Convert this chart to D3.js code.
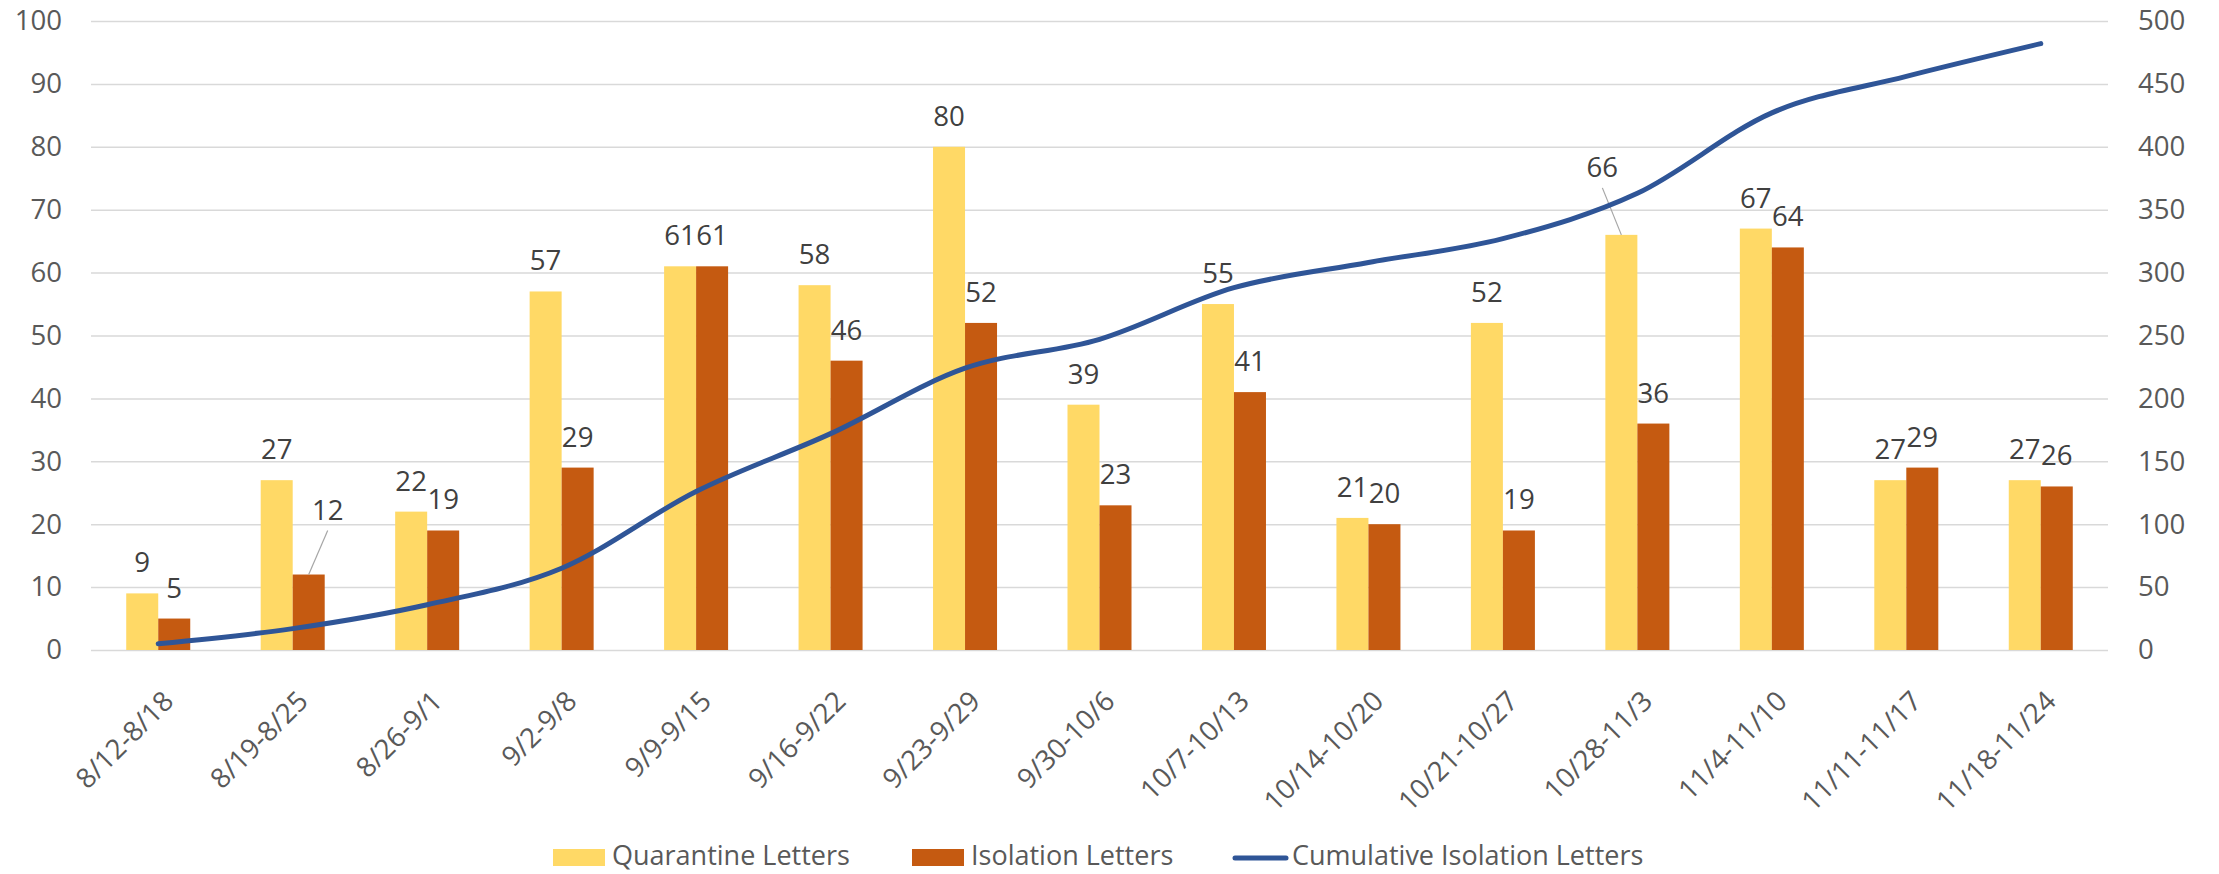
<!DOCTYPE html>
<html>
<head>
<meta charset="utf-8">
<script src="https://cdn.jsdelivr.net/npm/d3@7"></script>
<style>
  body { margin: 0; background: #fff; }
  svg text { font-family: "Open Sans", sans-serif; }
</style>
</head>
<body>
<div id="chart"></div>
<script>
// data
const weeks = ["8/12-8/18", "8/19-8/25", "8/26-9/1", "9/2-9/8", "9/9-9/15", "9/16-9/22",
  "9/23-9/29", "9/30-10/6", "10/7-10/13", "10/14-10/20", "10/21-10/27", "10/28-11/3",
  "11/4-11/10", "11/11-11/17", "11/18-11/24"];
const quarantine = [9, 27, 22, 57, 61, 58, 80, 39, 55, 21, 52, 66, 67, 27, 27];
const isolation = [5, 12, 19, 29, 61, 46, 52, 23, 41, 20, 19, 36, 64, 29, 26];
const cumulative = [5, 17, 36, 65, 126, 172, 224, 247, 288, 308, 327, 363, 427, 456, 482];
const leftTicks = [0, 10, 20, 30, 40, 50, 60, 70, 80, 90, 100];
const rightTicks = [0, 50, 100, 150, 200, 250, 300, 350, 400, 450, 500];

const W = 2219, H = 874;
const margin = { top: 21, right: 111, bottom: 224, left: 91 };
const plotW = W - margin.left - margin.right;
const plotH = H - margin.top - margin.bottom;

const svg = d3.select("#chart").append("svg")
  .attr("width", W).attr("height", H);
const g = svg.append("g")
  .attr("transform", "translate(" + margin.left + "," + margin.top + ")");

const x0 = d3.scaleBand().domain(weeks).range([0, plotW]);
const barW = x0.bandwidth() * 0.238;
const x1 = d3.scaleBand().domain(["q", "i"])
  .range([x0.bandwidth() / 2 - barW, x0.bandwidth() / 2 + barW]);
const yL = d3.scaleLinear().domain([0, 100]).range([plotH, 0]);
const yR = d3.scaleLinear().domain([0, 500]).range([plotH, 0]);

// left axis + gridlines
const ax = g.append("g")
  .call(d3.axisLeft(yL).tickValues(leftTicks).tickSize(-plotW).tickPadding(29));
ax.select(".domain").remove();
ax.selectAll("line").attr("stroke", "#d9d9d9").attr("stroke-width", 1.5);
ax.selectAll("text").attr("fill", "#595959").style("font-size", "27.6px");

// right axis
const axR = g.append("g").attr("transform", "translate(" + plotW + ",0)")
  .call(d3.axisRight(yR).tickValues(rightTicks).tickSize(0).tickPadding(30));
axR.select(".domain").remove();
axR.selectAll("text").attr("fill", "#595959").style("font-size", "27.6px");

// x axis
const axX = g.append("g").attr("transform", "translate(0," + plotH + ")")
  .call(d3.axisBottom(x0).tickSize(0));
axX.select(".domain").remove();
axX.selectAll("text")
  .attr("x", 0).attr("y", 0).attr("dy", "0.35em")
  .attr("transform", "translate(10,46) rotate(-45)")
  .style("text-anchor", "end")
  .attr("fill", "#595959").style("font-size", "27.6px");

// bars
const rows = weeks.map((w, i) => ({ week: w, q: quarantine[i], i: isolation[i] }));
const colors = { q: "#ffd966", i: "#c55a11" };
const grp = g.selectAll(".week").data(rows).enter().append("g")
  .attr("transform", d => "translate(" + x0(d.week) + ",0)");
grp.selectAll("rect").data(d => ["q", "i"].map(k => ({ k: k, v: d[k] })))
  .enter().append("rect")
  .attr("x", d => x1(d.k))
  .attr("width", x1.bandwidth())
  .attr("y", d => yL(d.v))
  .attr("height", d => plotH - yL(d.v))
  .attr("fill", d => colors[d.k]);

// cumulative line
const line = d3.line()
  .x((d, i) => x0(weeks[i]) + x0.bandwidth() / 2)
  .y(d => yR(d))
  .curve(d3.curveCatmullRom.alpha(0));
g.append("path").datum(cumulative)
  .attr("d", line)
  .attr("fill", "none")
  .attr("stroke", "#2f5597")
  .attr("stroke-width", 5)
  .attr("stroke-linecap", "round");

// data labels (two were moved with leader lines)
const moved = { "q-11": [-19, -37], "i-1": [19, -34] };
grp.each(function (d, idx) {
  const sel = d3.select(this);
  ["q", "i"].forEach(k => {
    const cx = x1(k) + x1.bandwidth() / 2;
    const top = yL(d[k]);
    const off = moved[k + "-" + idx] || [0, 0];
    if (off[0] !== 0) {
      sel.append("line")
        .attr("x1", cx).attr("y1", top)
        .attr("x2", cx + off[0]).attr("y2", top - 21 + off[1] + 11)
        .attr("stroke", "#a6a6a6").attr("stroke-width", 1.2);
    }
    sel.append("text")
      .attr("x", cx + off[0]).attr("y", top - 21 + off[1])
      .attr("text-anchor", "middle")
      .attr("fill", "#404040").style("font-size", "27.6px")
      .text(d[k]);
  });
});

// legend
const leg = svg.append("g").attr("transform", "translate(0,856)");
const items = [
  { label: "Quarantine Letters", type: "rect", color: colors.q, x: 553 },
  { label: "Isolation Letters", type: "rect", color: colors.i, x: 912 },
  { label: "Cumulative Isolation Letters", type: "line", color: "#2f5597", x: 1233 }
];
items.forEach(it => {
  if (it.type === "rect") {
    leg.append("rect").attr("x", it.x).attr("y", -7).attr("width", 52).attr("height", 17)
      .attr("fill", it.color);
  } else {
    leg.append("line").attr("x1", it.x + 2).attr("x2", it.x + 53).attr("y1", 2).attr("y2", 2)
      .attr("stroke", it.color).attr("stroke-width", 5).attr("stroke-linecap", "round");
  }
  leg.append("text").attr("x", it.x + 59).attr("y", 0).attr("dy", "0.35em")
    .attr("fill", "#595959").style("font-size", "27px")
    .text(it.label);
});
</script>
</body>
</html>
